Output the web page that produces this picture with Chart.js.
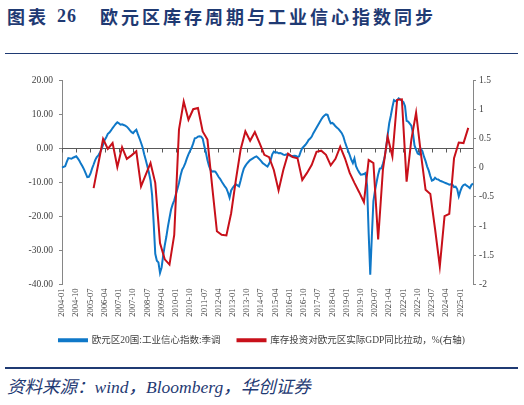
<!DOCTYPE html>
<html>
<head>
<meta charset="utf-8">
<script src="https://cdn.jsdelivr.net/npm/chart.js@4/dist/chart.umd.min.js"></script>
<style>
  body { margin: 0; width: 524px; height: 405px; overflow: hidden; background: #fff; position: relative; }
  .t { position: absolute; color: #1F3A73; font-weight: bold; font-size: 18px; line-height: 18px; font-family: "Noto Sans CJK SC", sans-serif; letter-spacing: 3px; white-space: nowrap; }
  .num { font-family: "Liberation Serif", serif; letter-spacing: 1px; }
  .rule { position: absolute; left: 5px; width: 513px; background: #1F3A73; }
  #src { position: absolute; left: 7px; top: 377px; font-size: 17.5px; line-height: 20px; color: #1F3A73; font-style: italic; white-space: nowrap; font-family: "Liberation Serif", "Noto Sans CJK SC", serif; }
  #wrap { position: absolute; left: 0; top: 60px; width: 524px; height: 305px; }
</style>
</head>
<body>
<div class="t" style="left:7px;top:7px;">图表</div>
<div class="t num" style="left:57px;top:7px;">26</div>
<div class="t" style="left:100px;top:7px;">欧元区库存周期与工业信心指数同步</div>
<div class="rule" style="top:53px;height:1px;"></div>
<div id="wrap"><canvas id="myChart"></canvas></div>
<div class="rule" style="top:367px;height:2px;"></div>
<div id="src">资料来源：wind，Bloomberg，华创证券</div>

<script>
// monthly, 2004-01 .. 2025-09
var months = [];
for (var i = 0; i < 261; i++) {
  var yr = 2004 + Math.floor(i / 12);
  var mo = (i % 12) + 1;
  months.push(yr + "-" + (mo < 10 ? "0" + mo : mo));
}

// 欧元区20国:工业信心指数:季调 (left axis), monthly
var confidence = [
  -5.7, -5.5, -5.3, -4.0, -2.9, -3.0, -3.1, -2.8, -2.6, -2.4, -3.0, -3.7,
  -4.6, -5.4, -6.3, -7.4, -8.5, -8.4, -7.5, -6.0, -4.8, -3.5, -2.6, -2.1,
  -1.3, -0.3, 1.0, 2.4, 3.2, 4.2, 4.6, 5.2, 5.9, 6.5, 7.1, 7.6,
  7.3, 6.9, 7.0, 6.8, 6.6, 6.3, 5.8, 5.2, 4.7, 4.4, 5.0, 5.4,
  4.1, 2.9, 1.6, 0.2, -1.8, -3.5, -5.3, -7.2, -9.5, -13.8, -22.0, -31.0,
  -33.0, -33.5, -36.6, -35.0, -31.5, -28.5, -26.0, -23.0, -20.5, -18.0, -16.5, -15.3,
  -13.6, -12.0, -10.2, -8.0, -6.3, -5.5, -4.4, -3.0, -1.8, -0.8, 0.1, 1.4,
  2.9, 3.0, 3.4, 3.5, 3.4, 2.8, 0.6, -1.2, -3.5, -5.2, -6.4, -6.9,
  -6.8, -6.9, -7.6, -8.4, -9.0, -9.8, -10.5, -11.2, -11.8, -13.0, -14.5, -12.4,
  -11.6, -11.0, -10.6, -10.9, -11.2, -9.5, -7.6, -6.0, -5.2, -4.5, -4.0, -3.5,
  -3.2, -2.9, -2.6, -2.4, -2.8, -3.3, -3.8, -4.4, -4.7, -5.1, -5.4, -4.6,
  -3.5, -1.8, -1.0, -1.3, -1.2, -1.5, -1.4, -1.6, -1.9, -2.0, -1.8, -2.0,
  -2.1, -2.4, -2.3, -2.2, -2.3, -2.6, -2.4, -1.0, 0.0, 0.5, 1.0, 1.6,
  2.4, 2.8, 3.4, 4.4, 5.2, 6.0, 6.8, 7.6, 8.4, 9.1, 9.6, 9.9,
  9.8, 8.4, 7.3, 7.4, 7.0, 6.4, 6.0, 5.6, 5.0, 4.4, 3.4, 1.8,
  0.5, -0.8, -2.0, -3.4, -4.4, -3.0, -5.3, -6.3, -7.1, -7.8, -7.7, -7.6,
  -7.3, -11.0, -25.0, -37.1, -26.0, -15.5, -12.5, -10.0, -7.7, -6.0, -5.9, -4.6,
  -2.9, 0.0, 3.8, 7.3, 9.5, 12.0, 14.1, 13.8, 14.0, 14.6, 14.3, 13.9,
  13.5, 12.3, 8.0, 7.8, 7.2, 6.6, 4.5, 0.8, -0.4, -1.6, -1.8, -0.2,
  -0.9, -2.5, -3.8, -5.4, -6.6, -8.2, -9.5, -9.3, -8.7, -9.1, -9.2, -9.5,
  -9.7, -9.9, -10.1, -10.3, -10.5, -10.7, -10.6, -10.7, -11.4, -11.3, -12.0, -14.1,
  -12.6, -11.4, -10.8, -10.6, -11.0, -11.3, -11.7, -10.8, -10.4
];

// 库存投资对欧元区实际GDP同比拉动 (right axis), quarterly from 2005-09
var redStart = 20; // index of 2005-09 in months
var inventory = [
  -0.35, 0.07, 0.49, 0.32, 0.42, 0.01, 0.35, 0.15, 0.21, 0.28,
  -0.32, -0.12, 0.08, -0.26, -1.29, -1.57, -1.66, -1.15, 0.65, 1.13,
  0.82, 1.00, 1.02, 0.62, 0.48, -0.32, -1.09, -1.15, -1.16, -0.78,
  -0.21, 0.31, 0.62, 0.46, 0.61, 0.42, 0.22, 0.18, -0.04, -0.39,
  -0.04, 0.24, 0.18, 0.16, -0.21, -0.09, 0.05, 0.27, 0.29, 0.22,
  0.04, 0.15, 0.36, 0.16, -0.09, -0.26, -0.42, -0.59, 0.13, 0.08,
  -1.23, -0.04, 0.53, 0.19, 1.16, 1.17, -0.24, 0.48, 0.94, 0.25,
  -0.38, -0.45, -1.05, -1.69, -0.83, -0.79, 0.16, 0.43, 0.42, 0.68
];

var leftTicks = [-40, -30, -20, -10, 0, 10, 20];
var rightTicks = [-2, -1.5, -1, -0.5, 0, 0.5, 1, 1.5];

// put the quarterly points on the monthly axis
var inventoryMonthly = months.map(function (m, i) {
  var k = i - redStart;
  return k >= 0 && k % 3 === 0 && k / 3 < inventory.length ? inventory[k / 3] : null;
});

var serif = "'Liberation Serif', 'Times New Roman', serif";
var axisColor = "#868686";

// x axis line drawn at y = 0 with small tick marks
var zeroAxis = {
  id: "zeroAxis",
  beforeDatasetsDraw: function (chart) {
    var ctx = chart.ctx;
    var area = chart.chartArea;
    var y0 = Math.round(chart.scales.y.getPixelForValue(0)) + 0.5;
    ctx.save();
    ctx.strokeStyle = "#595959";
    ctx.lineWidth = 1;
    ctx.beginPath();
    ctx.moveTo(area.left, y0);
    ctx.lineTo(area.right, y0);
    for (var i = 0; i < months.length; i += 9) {
      var x = Math.round(chart.scales.x.getPixelForValue(i)) + 0.5;
      ctx.moveTo(x, y0);
      ctx.lineTo(x, y0 + 4);
    }
    ctx.stroke();
    ctx.restore();
  }
};

var ctx = document.getElementById("myChart").getContext("2d");
var myChart = new Chart(ctx, {
  type: "line",
  data: {
    labels: months,
    datasets: [
      {
        label: "欧元区20国:工业信心指数:季调",
        data: confidence,
        borderColor: "#0F78C8",
        backgroundColor: "#0F78C8",
        borderWidth: 2,
        pointRadius: 0,
        yAxisID: "y",
        order: 2
      },
      {
        label: "库存投资对欧元区实际GDP同比拉动，%(右轴)",
        data: inventoryMonthly,
        borderColor: "#C8101A",
        backgroundColor: "#C8101A",
        borderWidth: 2,
        pointRadius: 0,
        spanGaps: true,
        yAxisID: "y1",
        order: 1
      }
    ]
  },
  plugins: [zeroAxis],
  options: {
    responsive: true,
    maintainAspectRatio: false,
    animation: false,
    layout: { padding: { top: 20, left: 0, right: 0, bottom: 10 } },
    scales: {
      x: {
        type: "category",
        grid: { display: false, drawTicks: false },
        border: { display: false },
        ticks: {
          autoSkip: false,
          maxRotation: 90,
          minRotation: 90,
          padding: 4,
          color: "#404040",
          font: { family: serif, size: 8.5 },
          callback: function (v, i) {
            return i % 9 === 0 ? months[i] : null;
          }
        },
        afterFit: function (s) { s.height = 34; }
      },
      y: {
        position: "left",
        min: -40,
        max: 20,
        afterBuildTicks: function (s) {
          s.ticks = leftTicks.map(function (v) { return { value: v }; });
        },
        grid: { drawOnChartArea: false, tickLength: 3, color: axisColor },
        border: { color: axisColor },
        ticks: {
          padding: 6,
          color: "#404040",
          font: { family: serif, size: 9.5 },
          callback: function (v) { return v.toFixed(2); }
        },
        afterFit: function (s) { s.width = 62; }
      },
      y1: {
        position: "right",
        min: -2,
        max: 1.5,
        afterBuildTicks: function (s) {
          s.ticks = rightTicks.map(function (v) { return { value: v }; });
        },
        grid: { drawOnChartArea: false, tickLength: 3, color: axisColor },
        border: { color: axisColor },
        ticks: {
          padding: 3,
          color: "#404040",
          font: { family: serif, size: 9.5 },
          callback: function (v) { return String(v); }
        },
        afterFit: function (s) { s.width = 51; }
      }
    },
    plugins: {
      legend: {
        position: "bottom",
        labels: {
          boxWidth: 28,
          boxHeight: 2,
          padding: 17,
          color: "#404040",
          font: { family: "'Liberation Serif', 'Noto Sans CJK SC', serif", size: 9.5 },
          sort: function (a, b) { return a.datasetIndex - b.datasetIndex; }
        }
      },
      tooltip: { enabled: false }
    }
  }
});
</script>
</body>
</html>
